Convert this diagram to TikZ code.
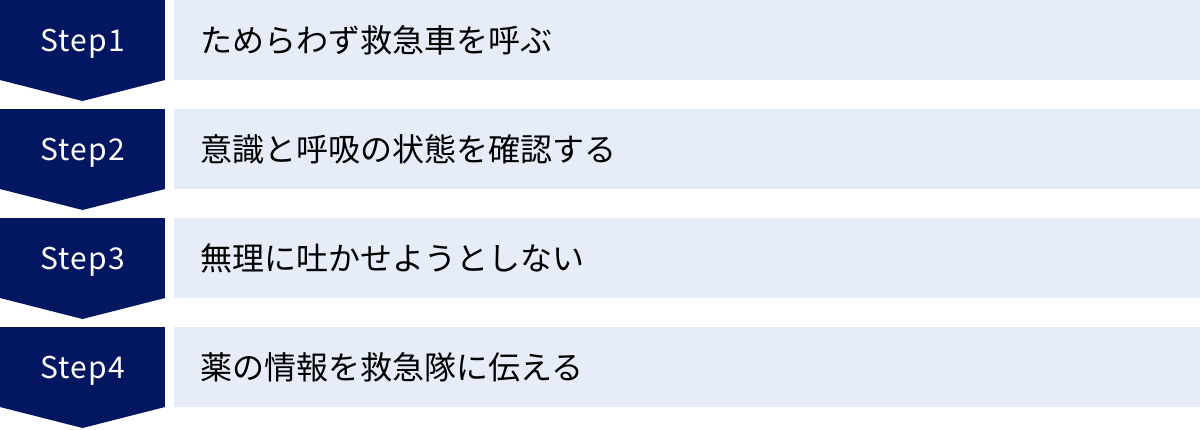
\documentclass[tikz,border=0pt]{standalone}
\usepackage{fontspec}
\setmainfont{Noto Sans CJK JP}
\usetikzlibrary{positioning}

\definecolor{StepNavy}{HTML}{031661}
\definecolor{StepPale}{HTML}{E6ECF8}

\begin{document}
\begin{tikzpicture}[x=0.5pt,y=-0.5pt]

		\useasboundingbox (0,0) rectangle (1200,429);

		\pgfmathsetmacro{\rowDist}{109}

		\tikzset{
			stepBadge/.style={
				fill=StepNavy,
				text=white,
				minimum width=82.5pt,
				minimum height=40pt,
				text height=11pt,
				text depth=0pt,
				inner sep=0,
				outer sep=0pt,
				font=\fontsize{15pt}{15pt}\selectfont\addfontfeatures{LetterSpace=4},
			},
			stepBox/.style={
				fill=StepPale,
				minimum width=513pt,
				minimum height=40pt,
				inner sep=0,
				outer sep=0pt,
			},
			stepText/.style={
				text=black,
				inner sep=0,
				outer sep=0pt,
				font=\fontsize{16pt}{16pt}\selectfont,
			},
		}

		% Rows
		\foreach \i/\txt in {1/ためらわず救急車を呼ぶ,2/意識と呼吸の状態を確認する,3/無理に吐かせようとしない,4/薬の情報を救急隊に伝える} {
			% Badge
			\node[stepBadge] (step\i) at (82.5,{(\i-1)*\rowDist+40}) {Step\i};
			\fill[StepNavy] (step\i.south west) -- (step\i.south east) -- ([yshift=-10.5pt]step\i.south) -- cycle;

			% Box
			\node[stepBox,right=4.5pt of step\i] (box\i) {};

			% Text
			\node[stepText,right=13pt of box\i.west] (txt\i) {\txt};
		}

\end{tikzpicture}
\end{document}
